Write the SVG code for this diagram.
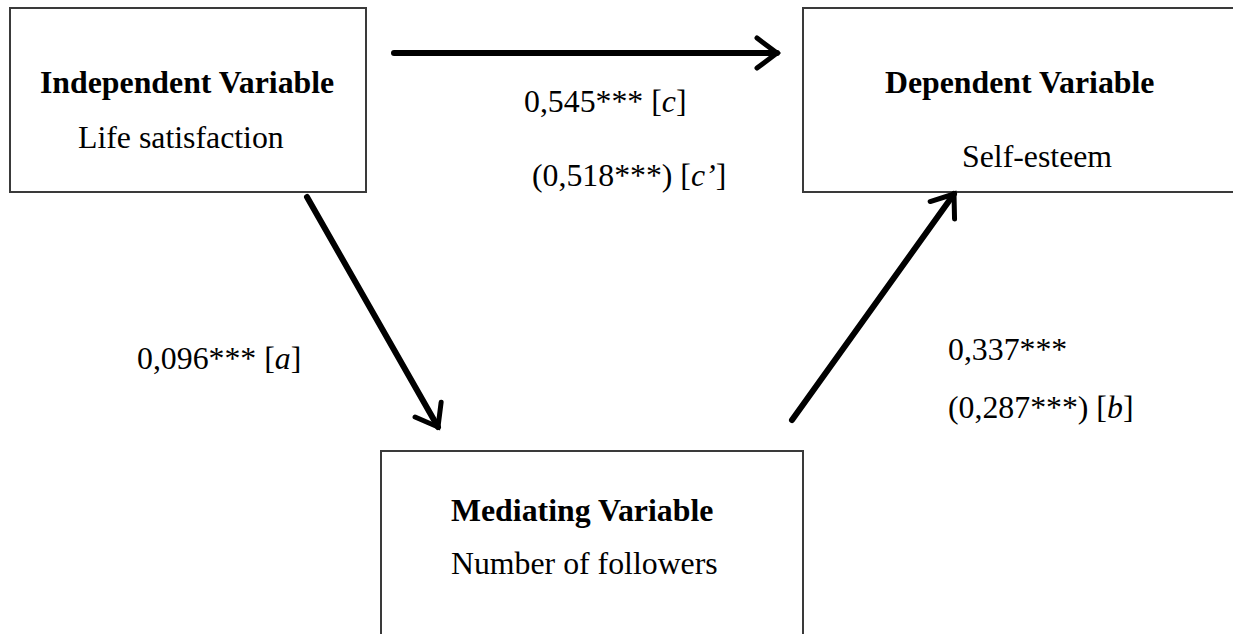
<svg xmlns="http://www.w3.org/2000/svg" width="1233" height="634" viewBox="0 0 1233 634">
<style>
.box{fill:#fff;stroke:#3a3a3a;stroke-width:2}
.t{font-family:"Liberation Serif","Times New Roman",serif;font-size:31.8px;fill:#000}
.b{font-weight:bold}
.i{font-style:italic}
.conn{stroke:#000;stroke-width:6;fill:none;stroke-linecap:round}
</style>
<defs>
<marker id="head" markerUnits="userSpaceOnUse" markerWidth="40" markerHeight="40" viewBox="-25 -20 30 40" refX="0" refY="0" orient="auto">
<path d="M-20,-15 L0,0 L-20,15" fill="none" stroke="#000" stroke-width="5" stroke-linejoin="miter" stroke-linecap="round"/>
</marker>
</defs>
<rect width="1233" height="634" fill="#fff"/>
<g id="node-independent">
<rect class="box" x="10" y="8" width="356" height="184"/>
<text class="t b" x="40" y="93">Independent Variable</text>
<text class="t" x="78" y="148">Life satisfaction</text>
</g>
<g id="node-dependent">
<rect class="box" x="803" y="8" width="450" height="184"/>
<text class="t b" x="885" y="93">Dependent Variable</text>
<text class="t" x="962" y="167">Self-esteem</text>
</g>
<g id="node-mediating">
<rect class="box" x="381" y="451" width="422" height="200"/>
<text class="t b" x="451" y="521">Mediating Variable</text>
<text class="t" x="451" y="574">Number of followers</text>
</g>
<g id="connectors">
<line class="conn" x1="394" y1="53" x2="777" y2="53" marker-end="url(#head)"/>
<line class="conn" x1="307" y1="197" x2="438" y2="427" marker-end="url(#head)"/>
<line class="conn" x1="792" y1="420" x2="954" y2="194" marker-end="url(#head)"/>
</g>
<g id="labels">
<text class="t" x="524" y="112">0,545*** [<tspan class="i">c</tspan>]</text>
<text class="t" x="532" y="186">(0,518***) [<tspan class="i">c’</tspan>]</text>
<text class="t" x="137" y="369">0,096*** [<tspan class="i">a</tspan>]</text>
<text class="t" x="948" y="360">0,337***</text>
<text class="t" x="948" y="418">(0,287***) [<tspan class="i">b</tspan>]</text>
</g>
</svg>
